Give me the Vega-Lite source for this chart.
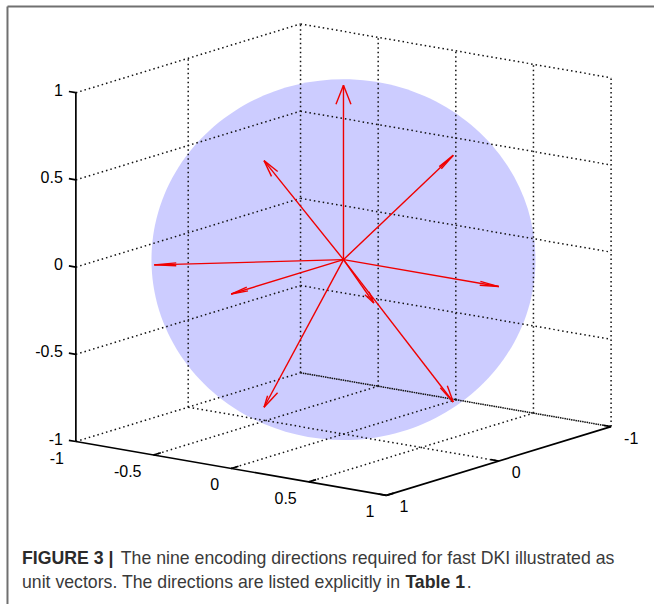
{
  "$schema": "https://vega.github.io/schema/vega-lite/v6.json",
  "width": 655,
  "height": 606,
  "autosize": {"type": "fit", "contains": "padding"},
  "padding": 0,
  "background": "white",
  "config": {"view": {"stroke": null}},
  "datasets": {
    "sphere": [{"u": 0, "v": 0}],
    "grid": [
      {"u": -1.5315, "v": -1.0428, "u2": -0.2457, "v2": -0.6486},
      {"u": -1.5315, "v": -0.5428, "u2": -0.2457, "v2": -0.1486},
      {"u": -1.5315, "v": -0.0428, "u2": -0.2457, "v2": 0.3514},
      {"u": -1.5315, "v": 0.4572, "u2": -0.2457, "v2": 0.8514},
      {"u": -1.5315, "v": 0.9572, "u2": -0.2457, "v2": 1.3514},
      {"u": -0.8886, "v": -0.8457, "u2": -0.8886, "v2": 1.1543},
      {"u": -0.2457, "v": -0.6486, "u2": -0.2457, "v2": 1.3514},
      {"u": -0.2457, "v": -0.6486, "u2": 1.5315, "v2": -0.9572},
      {"u": -0.2457, "v": -0.1486, "u2": 1.5315, "v2": -0.4572},
      {"u": -0.2457, "v": 0.3514, "u2": 1.5315, "v2": 0.0428},
      {"u": -0.2457, "v": 0.8514, "u2": 1.5315, "v2": 0.5428},
      {"u": -0.2457, "v": 1.3514, "u2": 1.5315, "v2": 1.0428},
      {"u": 0.1986, "v": -0.7257, "u2": 0.1986, "v2": 1.2743},
      {"u": 0.6429, "v": -0.8029, "u2": 0.6429, "v2": 1.1971},
      {"u": 1.0872, "v": -0.88, "u2": 1.0872, "v2": 1.12},
      {"u": 1.5315, "v": -0.9572, "u2": 1.5315, "v2": 1.0428},
      {"u": -1.0872, "v": -1.12, "u2": 0.1986, "v2": -0.7257},
      {"u": -0.6429, "v": -1.1971, "u2": 0.6429, "v2": -0.8029},
      {"u": -0.1986, "v": -1.2743, "u2": 1.0872, "v2": -0.88},
      {"u": -0.8886, "v": -0.8457, "u2": 0.8886, "v2": -1.1543}
    ],
    "floorback": [{"u": -0.2457, "v": -0.6486, "u2": 1.5315, "v2": -0.9572}],
    "axes": [
      {"u": -1.5315, "v": -1.0428, "u2": -1.5315, "v2": 0.9572},
      {"u": -1.5315, "v": -1.0428, "u2": 0.2457, "v2": -1.3514},
      {"u": 0.2457, "v": -1.3514, "u2": 1.5315, "v2": -0.9572},
      {"u": -1.5315, "v": 0.9572, "u2": -1.5715, "v2": 0.9641},
      {"u": -1.5315, "v": 0.4572, "u2": -1.5715, "v2": 0.4641},
      {"u": -1.5315, "v": -0.0428, "u2": -1.5715, "v2": -0.0359},
      {"u": -1.5315, "v": -0.5428, "u2": -1.5715, "v2": -0.5359},
      {"u": -1.5315, "v": -1.0428, "u2": -1.5715, "v2": -1.0359},
      {"u": -1.0872, "v": -1.12, "u2": -1.0452, "v2": -1.1072},
      {"u": -0.6429, "v": -1.1971, "u2": -0.6009, "v2": -1.1843},
      {"u": -0.1986, "v": -1.2743, "u2": -0.1566, "v2": -1.2615},
      {"u": 0.2457, "v": -1.3514, "u2": 0.2877, "v2": -1.3386},
      {"u": 0.2457, "v": -1.3514, "u2": 0.2013, "v2": -1.3437},
      {"u": 0.8886, "v": -1.1543, "u2": 0.8442, "v2": -1.1466},
      {"u": 1.5315, "v": -0.9572, "u2": 1.4871, "v2": -0.9495}
    ],
    "shafts": [
      {"dir": "(0,0,1)", "u": 0, "v": 0, "u2": 0, "v2": 1},
      {"dir": "(0,1,1)/sqrt2", "u": 0, "v": 0, "u2": -0.4546, "v2": 0.5677},
      {"dir": "(1,0,1)/sqrt2", "u": 0, "v": 0, "u2": 0.6283, "v2": 0.598},
      {"dir": "(-1,1,0)/sqrt2", "u": 0, "v": 0, "u2": -1.0829, "v2": -0.0303},
      {"dir": "(0,1,0)", "u": 0, "v": 0, "u2": -0.6429, "v2": -0.1971},
      {"dir": "(1,0,0)", "u": 0, "v": 0, "u2": 0.8886, "v2": -0.1543},
      {"dir": "(1,1,0)/sqrt2", "u": 0, "v": 0, "u2": 0.1737, "v2": -0.2485},
      {"dir": "(0,1,-1)/sqrt2", "u": 0, "v": 0, "u2": -0.4546, "v2": -0.8465},
      {"dir": "(1,0,-1)/sqrt2", "u": 0, "v": 0, "u2": 0.6283, "v2": -0.8162}
    ],
    "heads": [
      {"u": 0, "v": 1, "u2": -0.0429, "v2": 0.8914},
      {"u": 0, "v": 1, "u2": 0.0429, "v2": 0.8914},
      {"u": -0.4546, "v": 0.5677, "u2": -0.3766, "v2": 0.5057},
      {"u": -0.4546, "v": 0.5677, "u2": -0.412, "v2": 0.4771},
      {"u": 0.6283, "v": 0.598, "u2": 0.5599, "v2": 0.5209},
      {"u": 0.6283, "v": 0.598, "u2": 0.5482, "v2": 0.5333},
      {"u": -1.0829, "v": -0.0303, "u2": -0.9571, "v2": -0.0354},
      {"u": -1.0829, "v": -0.0303, "u2": -0.9571, "v2": -0.0183},
      {"u": -0.6429, "v": -0.1971, "u2": -0.5466, "v2": -0.1794},
      {"u": -0.6429, "v": -0.1971, "u2": -0.5534, "v2": -0.1577},
      {"u": 0.8886, "v": -0.1543, "u2": 0.7798, "v2": -0.1469},
      {"u": 0.8886, "v": -0.1543, "u2": 0.7837, "v2": -0.1246},
      {"u": 0.1737, "v": -0.2485, "u2": 0.146, "v2": -0.1844},
      {"u": 0.1737, "v": -0.2485, "u2": 0.1226, "v2": -0.2007},
      {"u": -0.4546, "v": -0.8465, "u2": -0.4343, "v2": -0.78},
      {"u": -0.4546, "v": -0.8465, "u2": -0.3771, "v2": -0.7629},
      {"u": 0.6283, "v": -0.8162, "u2": 0.5543, "v2": -0.7343},
      {"u": 0.6283, "v": -0.8162, "u2": 0.5943, "v2": -0.7229}
    ],
    "zlabels": [
      {"u": -1.5315, "v": 0.9572, "label": "1"},
      {"u": -1.5315, "v": 0.4572, "label": "0.5"},
      {"u": -1.5315, "v": -0.0428, "label": "0"},
      {"u": -1.5315, "v": -0.5428, "label": "-0.5"},
      {"u": -1.5315, "v": -1.0428, "label": "-1"}
    ],
    "xlabels": [
      {"u": -1.5315, "v": -1.0428, "label": "-1"},
      {"u": -1.0872, "v": -1.12, "label": "-0.5"},
      {"u": -0.6429, "v": -1.1971, "label": "0"},
      {"u": -0.1986, "v": -1.2743, "label": "0.5"},
      {"u": 0.2457, "v": -1.3514, "label": "1"}
    ],
    "ylabels": [
      {"u": 0.2457, "v": -1.3514, "label": "1"},
      {"u": 0.8886, "v": -1.1543, "label": "0"},
      {"u": 1.5315, "v": -0.9572, "label": "-1"}
    ],
    "caption_bold": [
      {"u": -1.84, "v": -1.7457, "label": "FIGURE 3 |"},
      {"u": 0.3543, "v": -1.8829, "label": "Table 1"}
    ],
    "caption_regular": [
      {"u": -1.2743, "v": -1.7457, "label": "The nine encoding directions required for fast DKI illustrated as"},
      {"u": -1.84, "v": -1.8829, "label": "unit vectors. The directions are listed explicitly in"},
      {"u": 0.7057, "v": -1.8829, "label": "."}
    ],
    "frame": [
      {"u": -1.9229, "v": 1.4514, "u2": 1.7771, "v2": 1.4514},
      {"u": -1.9229, "v": 1.4514, "u2": -1.9229, "v2": -1.9743}
    ]
  },
  "encoding": {
    "x": {"field": "u", "type": "quantitative", "scale": {"domain": [-1.965714, 1.777143], "nice": false, "zero": false}, "axis": null},
    "y": {"field": "v", "type": "quantitative", "scale": {"domain": [-1.974286, 1.488571], "nice": false, "zero": false}, "axis": null}
  },
  "layer": [
    {
      "data": {"name": "sphere"},
      "mark": {"type": "point", "shape": "M-1,0A1,0.94,0,1,0,1,0A1,0.94,0,1,0,-1,0Z", "size": 147456, "filled": true, "color": "#ccccff", "opacity": 1, "strokeWidth": 0}
    },
    {
      "data": {"name": "grid"},
      "mark": {"type": "rule", "color": "#111111", "strokeWidth": 1.5, "strokeDash": [1.5, 3]},
      "encoding": {"x2": {"field": "u2"}, "y2": {"field": "v2"}}
    },
    {
      "data": {"name": "floorback"},
      "mark": {"type": "rule", "color": "#111111", "strokeWidth": 1.5, "strokeDash": [1.5, 3], "strokeDashOffset": 2.2},
      "encoding": {"x2": {"field": "u2"}, "y2": {"field": "v2"}}
    },
    {
      "data": {"name": "axes"},
      "mark": {"type": "rule", "color": "#000000", "strokeWidth": 1.7},
      "encoding": {"x2": {"field": "u2"}, "y2": {"field": "v2"}}
    },
    {
      "data": {"name": "shafts"},
      "mark": {"type": "rule", "color": "#f00000", "strokeWidth": 1.4},
      "encoding": {"x2": {"field": "u2"}, "y2": {"field": "v2"}}
    },
    {
      "data": {"name": "heads"},
      "mark": {"type": "rule", "color": "#f00000", "strokeWidth": 1.4},
      "encoding": {"x2": {"field": "u2"}, "y2": {"field": "v2"}}
    },
    {
      "data": {"name": "zlabels"},
      "mark": {"type": "text", "align": "right", "baseline": "middle", "dx": -13, "dy": -2, "font": "Liberation Sans", "fontSize": 16, "color": "#000000"},
      "encoding": {"text": {"field": "label"}}
    },
    {
      "data": {"name": "xlabels"},
      "mark": {"type": "text", "align": "right", "baseline": "middle", "dx": -12, "dy": 17, "font": "Liberation Sans", "fontSize": 16, "color": "#000000"},
      "encoding": {"text": {"field": "label"}}
    },
    {
      "data": {"name": "ylabels"},
      "mark": {"type": "text", "align": "left", "baseline": "middle", "dx": 13, "dy": 12, "font": "Liberation Sans", "fontSize": 16, "color": "#000000"},
      "encoding": {"text": {"field": "label"}}
    },
    {
      "data": {"name": "caption_bold"},
      "mark": {"type": "text", "align": "left", "baseline": "alphabetic", "font": "Liberation Sans", "fontSize": 17.7, "fontWeight": "bold", "color": "#2b2b2b"},
      "encoding": {"text": {"field": "label"}}
    },
    {
      "data": {"name": "caption_regular"},
      "mark": {"type": "text", "align": "left", "baseline": "alphabetic", "font": "Liberation Sans", "fontSize": 17.7, "color": "#3a3a3a"},
      "encoding": {"text": {"field": "label"}}
    },
    {
      "data": {"name": "frame"},
      "mark": {"type": "rule", "color": "#707070", "strokeWidth": 2},
      "encoding": {"x2": {"field": "u2"}, "y2": {"field": "v2"}}
    }
  ]
}
